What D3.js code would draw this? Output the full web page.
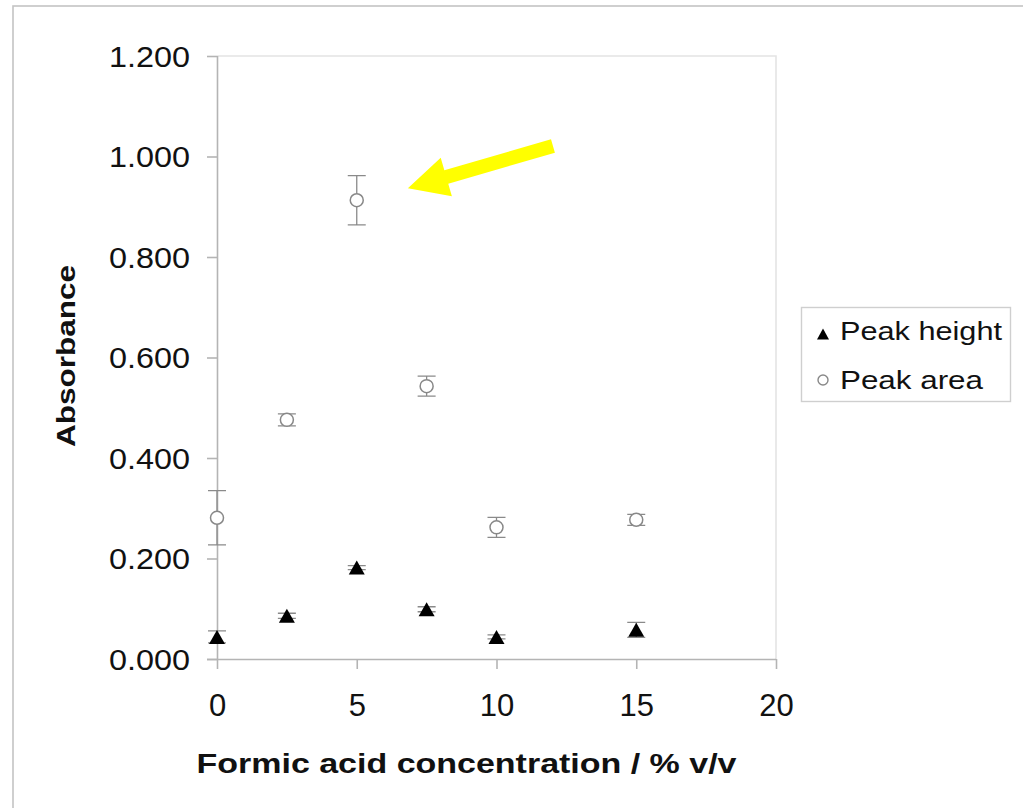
<!DOCTYPE html>
<html>
<head>
<meta charset="utf-8">
<script src="https://cdn.jsdelivr.net/npm/d3@7"></script>
<style>
  html, body { margin: 0; padding: 0; background: #fff; }
  svg { display: block; }
  text { font-family: Arial, "Liberation Sans", Helvetica, sans-serif; fill: #111; }
</style>
</head>
<body>
<svg id="chart" width="1023" height="808"></svg>
<script>
// ---- data ----
const concentrations = [0, 2.5, 5, 7.5, 10, 15];
const peakHeight = [0.044, 0.086, 0.182, 0.099, 0.044, 0.058];
const peakHeightErr = [0.012, 0.005, 0.004, 0.005, 0.004, 0.015];
const peakArea = [0.281, 0.476, 0.913, 0.543, 0.262, 0.277];
const peakAreaErr = [0.054, 0.012, 0.049, 0.020, 0.020, 0.011];
const xTicks = [0, 5, 10, 15, 20];
const yTicks = [0, 0.2, 0.4, 0.6, 0.8, 1.0, 1.2];
const seriesNames = ["Peak height", "Peak area"];
const xTitle = "Formic acid concentration / % v/v";
const yTitle = "Absorbance";
// annotation arrow (data coordinates): tail -> tip
const arrowTail = [12.02, 1.021];
const arrowTip = [6.83, 0.937];

// ---- layout ----
const svg = d3.select("#chart");
const pLeft = 217, pRight = 776, pTop = 56, pBottom = 659;
const x = d3.scaleLinear().domain([0, 20]).range([pLeft, pRight]);
const y = d3.scaleLinear().domain([0, 1.2]).range([pBottom, pTop]);

// outer border (only left/top visible in frame)
svg.append("rect").attr("x", 13).attr("y", 6).attr("width", 1200).attr("height", 1000)
  .attr("fill", "none").attr("stroke", "#c4c4c4").attr("stroke-width", 1.6);

// light plot frame (top & right)
svg.append("path")
  .attr("d", `M${pLeft},${pTop}H${pRight}V${pBottom}`)
  .attr("fill", "none").attr("stroke", "#e4e4e4").attr("stroke-width", 1.6);

// y axis
const yAxis = d3.axisLeft(y).tickValues(yTicks).tickSize(10).tickFormat(d3.format(".3f"));
const gy = svg.append("g").attr("transform", `translate(${pLeft},0)`).call(yAxis);
gy.select(".domain").attr("stroke", "#b4b4b4").attr("stroke-width", 1.6).attr("d", `M0.5,${pTop}V${pBottom}`);
gy.selectAll(".tick line").attr("stroke", "#b4b4b4").attr("stroke-width", 1.6);
gy.selectAll(".tick text")
  .attr("x", -27).attr("dy", "0.36em")
  .attr("font-size", 29).attr("fill", "#111")
  .attr("textLength", 81).attr("lengthAdjust", "spacingAndGlyphs")
  .attr("font-family", "Arial, 'Liberation Sans', sans-serif");

// x axis
const xAxis = d3.axisBottom(x).tickValues(xTicks).tickSize(10).tickFormat(d3.format("d"));
const gx = svg.append("g").attr("transform", `translate(0,${pBottom})`).call(xAxis);
gx.select(".domain").attr("stroke", "#b4b4b4").attr("stroke-width", 1.6).attr("d", `M${pLeft - 10},0.5H${pRight}`);
gx.selectAll(".tick line").attr("stroke", "#b4b4b4").attr("stroke-width", 1.6);
gx.selectAll(".tick text")
  .attr("y", 35).attr("dy", "0.71em")
  .attr("font-size", 31).attr("fill", "#111")
  .attr("font-family", "Arial, 'Liberation Sans', sans-serif");

// axis titles
svg.append("text").attr("x", 466.5).attr("y", 773)
  .attr("text-anchor", "middle").attr("font-size", 28).attr("font-weight", "bold")
  .attr("textLength", 540).attr("lengthAdjust", "spacingAndGlyphs")
  .text(xTitle);
svg.append("text").attr("transform", "translate(75,356) rotate(-90)")
  .attr("text-anchor", "middle").attr("font-size", 25.5).attr("font-weight", "bold")
  .attr("textLength", 182).attr("lengthAdjust", "spacingAndGlyphs")
  .text(yTitle);

// error bars
const cap = 9;
function errorBars(vals, errs, color) {
  const g = svg.append("g").attr("stroke", color).attr("stroke-width", 1.3).attr("fill", "none");
  concentrations.forEach((c, i) => {
    const cx = x(c), y1 = y(vals[i] + errs[i]), y2 = y(vals[i] - errs[i]);
    g.append("path").attr("d", `M${cx},${y1}V${y2}M${cx - cap},${y1}H${cx + cap}M${cx - cap},${y2}H${cx + cap}`);
  });
}
errorBars(peakArea, peakAreaErr, "#8a8a8a");
errorBars(peakHeight, peakHeightErr, "#8a8a8a");

// markers
const tri = (w, h) => `M0,${-h / 2}L${w / 2},${h / 2}L${-w / 2},${h / 2}Z`;
svg.append("g").selectAll("circle").data(concentrations).join("circle")
  .attr("cx", d => x(d)).attr("cy", (d, i) => y(peakArea[i])).attr("r", 6.5)
  .attr("fill", "#fff").attr("stroke", "#888").attr("stroke-width", 1.5);
svg.append("g").selectAll("path").data(concentrations).join("path")
  .attr("d", tri(16, 14))
  .attr("transform", (d, i) => `translate(${x(d)},${y(peakHeight[i])})`)
  .attr("fill", "#000");

// legend
const lg = svg.append("g");
lg.append("rect").attr("x", 801.5).attr("y", 307.5).attr("width", 209).attr("height", 94)
  .attr("fill", "#fff").attr("stroke", "#cfcfcf").attr("stroke-width", 1.4);
lg.append("path").attr("d", tri(12, 11)).attr("transform", "translate(823,334)").attr("fill", "#000");
lg.append("circle").attr("cx", 823).attr("cy", 380).attr("r", 5)
  .attr("fill", "#fff").attr("stroke", "#888").attr("stroke-width", 1.4);
lg.append("text").attr("x", 840).attr("y", 340).attr("font-size", 25)
  .attr("textLength", 162).attr("lengthAdjust", "spacingAndGlyphs").text(seriesNames[0]);
lg.append("text").attr("x", 840).attr("y", 389).attr("font-size", 25)
  .attr("textLength", 143).attr("lengthAdjust", "spacingAndGlyphs").text(seriesNames[1]);

// yellow arrow annotation
(function () {
  const [tx, ty] = [x(arrowTail[0]), y(arrowTail[1])];
  const [px, py] = [x(arrowTip[0]), y(arrowTip[1])];
  const dx = px - tx, dy = py - ty, len = Math.hypot(dx, dy);
  const ux = dx / len, uy = dy / len, nx = -uy, ny = ux;
  const headLen = 40, headHalf = 20, shaftHalf = 7;
  const bx = px - ux * headLen, by = py - uy * headLen;
  const pts = [
    [tx + nx * shaftHalf, ty + ny * shaftHalf],
    [bx + nx * shaftHalf, by + ny * shaftHalf],
    [bx + nx * headHalf, by + ny * headHalf],
    [px, py],
    [bx - nx * headHalf, by - ny * headHalf],
    [bx - nx * shaftHalf, by - ny * shaftHalf],
    [tx - nx * shaftHalf, ty - ny * shaftHalf]
  ];
  svg.append("path").attr("d", d3.line()(pts) + "Z").attr("fill", "#ffff00");
})();
</script>
</body>
</html>
